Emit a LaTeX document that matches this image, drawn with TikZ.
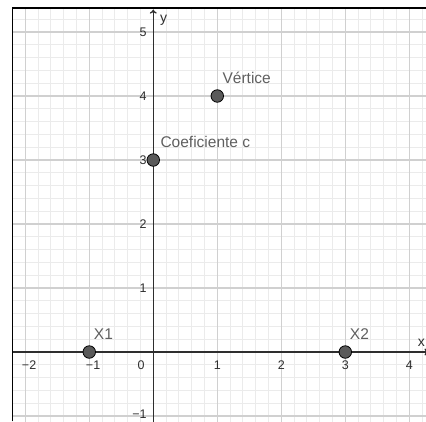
\documentclass[tikz,border=0pt]{standalone}
\usepackage{fontspec}
\setmainfont{Liberation Sans}
\usetikzlibrary{arrows.meta}
\definecolor{minorc}{HTML}{EBEBEB}
\definecolor{majorc}{HTML}{D0D0D0}
\definecolor{axisc}{HTML}{2E2E2E}
\definecolor{ptfill}{HTML}{5A5A5A}
\definecolor{lblc}{HTML}{5F5F5F}
\tikzset{
  minorgrid/.style={draw=minorc, line width=0.8pt},
  majorgrid/.style={draw=majorc, line width=1.2pt},
  axisline/.style={draw=axisc, line width=1.3pt},
  frameline/.style={draw=black, line width=1.2pt},
  pt/.style={circle, fill=ptfill, draw=black, line width=0.8pt, minimum size=12.5pt, inner sep=0pt},
  lbl/.style={text=lblc, font=\fontsize{15.5}{17}\selectfont, inner sep=0pt, anchor=base west},
  tick/.style={text=axisc, font=\fontsize{12.5}{14}\selectfont, inner sep=0pt},
}
\begin{document}
\begin{tikzpicture}[x=64pt,y=64pt]
\useasboundingbox (-2.395,-1.078) rectangle (4.261,5.5);
\begin{scope}
\clip (-2.20,-1.078) rectangle (4.261,5.375);
\draw[minorgrid, step=0.2] (-2.4,-1.2) grid (4.4,5.4);
\draw[majorgrid, step=1] (-2.4,-1.2) grid (4.4,5.4);
\coordinate (xl) at (-2.25,0);
\coordinate (xr) at (4.30,0);
\coordinate (yb) at (0,-1.1);
\coordinate (yt) at (0,5.35);
\draw[axisline, -{To[length=4pt,width=7pt]}] (xl) -- (xr);
\draw[axisline, -{To[length=4pt,width=7pt]}] (yb) -- (yt);
\end{scope}
\draw[frameline] (-2.20,-1.078) -- (-2.20,5.375) -- (4.261,5.375);
% axis labels
\node[tick, font=\fontsize{14}{16}\selectfont] (ylab) at (0.16,5.19) {y};
\node[tick, font=\fontsize{14}{16}\selectfont] (xlab) at (4.19,0.145) {x};
% x tick labels
\node[tick] (tm2) at (-1.94,-0.205) {\textminus 2};
\node[tick] (tm1) at (-0.94,-0.205) {\textminus 1};
\node[tick] (t0) at (-0.19,-0.205) {0};
\node[tick] (t1) at (1,-0.205) {1};
\node[tick] (t2) at (2,-0.205) {2};
\node[tick] (t3) at (3,-0.205) {3};
\node[tick] (t4) at (4,-0.205) {4};
% y tick labels
\node[tick, anchor=east] (ym1) at (-0.1,-0.97) {\textminus 1};
\node[tick, anchor=east] (y1) at (-0.1,1) {1};
\node[tick, anchor=east] (y2) at (-0.1,2) {2};
\node[tick, anchor=east] (y3) at (-0.1,3) {3};
\node[tick, anchor=east] (y4) at (-0.1,4) {4};
\node[tick, anchor=east] (y5) at (-0.1,5) {5};
% points
\node[pt] (V) at (1,4) {};
\node[pt] (C) at (0,3) {};
\node[pt] (X1) at (-1,0) {};
\node[pt] (X2) at (3,0) {};
% point labels
\node[lbl] (Vl) at (1.08,4.2) {Vértice};
\node[lbl] (Cl) at (0.11,3.2) {Coeficiente c};
\node[lbl] (X1l) at (-0.93,0.2) {X1};
\node[lbl] (X2l) at (3.07,0.2) {X2};
\end{tikzpicture}
\end{document}
